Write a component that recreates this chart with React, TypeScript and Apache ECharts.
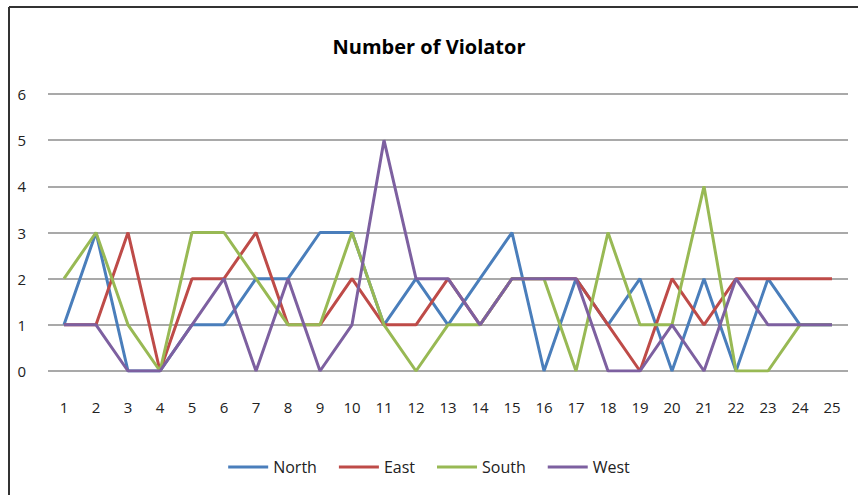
import React, { useEffect, useRef } from "react";
import * as echarts from "echarts";

const categories = ["1","2","3","4","5","6","7","8","9","10","11","12","13","14","15","16","17","18","19","20","21","22","23","24","25"];
const north = [1,3,0,0,1,1,2,2,3,3,1,2,1,2,3,0,2,1,2,0,2,0,2,1,1];
const east  = [1,1,3,0,2,2,3,1,1,2,1,1,2,1,2,2,2,1,0,2,1,2,2,2,2];
const south = [2,3,1,0,3,3,2,1,1,3,1,0,1,1,2,2,0,3,1,1,4,0,0,1,1];
const west  = [1,1,0,0,1,2,0,2,0,1,5,2,2,1,2,2,2,0,0,1,0,2,1,1,1];
const seriesNames = ["North","East","South","West"];
const seriesColors = ["#4A7EBB","#BE4B48","#98B954","#7D60A0"];

export default function App() {
  const ref = useRef<HTMLDivElement>(null);
  useEffect(() => {
    if (!ref.current) return;
    const chart = echarts.init(ref.current, null, { renderer: "svg" });
    const data = [north, east, south, west];
    const font = "'Open Sans', 'Noto Sans', sans-serif";
    chart.setOption({
      animation: false,
      backgroundColor: "#ffffff",
      title: {
        text: "Number of Violator",
        left: "center",
        top: 31,
        textStyle: { fontSize: 20, fontWeight: "bold", color: "#000", fontFamily: font },
      },
      legend: {
        data: seriesNames,
        bottom: 15,
        left: "center",
        itemWidth: 40,
        itemHeight: 3,
        itemGap: 22,
        icon: "rect",
        textStyle: { fontSize: 16, color: "#222", fontFamily: font },
      },
      grid: { left: 48, right: 10, top: 94, bottom: 124 },
      xAxis: {
        type: "category",
        data: categories,
        boundaryGap: true,
        axisLine: { show: false },
        axisTick: { show: false },
        axisLabel: { margin: 28, fontSize: 15, color: "#222", fontFamily: font },
      },
      yAxis: {
        type: "value",
        min: 0,
        max: 6,
        interval: 1,
        axisLine: { show: false },
        axisTick: { show: false },
        axisLabel: { margin: 22, fontSize: 15, color: "#222", fontFamily: font },
        splitLine: { lineStyle: { color: "#8c8c8c", width: 1.5 } },
      },
      graphic: [
        { type: "line", shape: { x1: 9, y1: 7, x2: 858, y2: 7 }, style: { stroke: "#333", lineWidth: 2 } },
        { type: "line", shape: { x1: 9, y1: 7, x2: 9, y2: 495 }, style: { stroke: "#333", lineWidth: 2 } },
      ],
      series: seriesNames.map((name, i) => ({
        name,
        type: "line",
        data: data[i],
        symbol: "none",
        color: seriesColors[i],
        lineStyle: { width: 3, color: seriesColors[i] },
      })),
    });
    return () => chart.dispose();
  }, []);
  return <div ref={ref} style={{ width: 858, height: 495, position: "absolute", left: 0, top: 0 }} />;
}
